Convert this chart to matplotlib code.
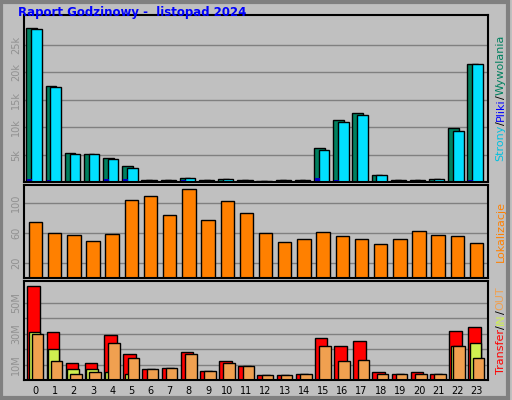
import numpy as np
import matplotlib.pyplot as plt

hours = list(range(24))
hits = [28.1, 17.6, 5.3, 5.2, 4.4, 3.0, 0.3, 0.4, 0.8, 0.3, 0.5, 0.4,
        0.2, 0.3, 0.4, 6.3, 11.3, 12.6, 1.3, 0.3, 0.4, 0.6, 9.9, 21.5]
files = [28.0, 17.4, 5.2, 5.2, 4.2, 2.6, 0.3, 0.4, 0.7, 0.3, 0.5, 0.4,
         0.2, 0.3, 0.4, 5.9, 11.0, 12.3, 1.2, 0.3, 0.4, 0.5, 9.4, 21.5]
pages = [0.6, 0.3, 0.1, 0.1, 0.5, 0.6, 0.1, 0.1, 0.3, 0.1, 0.2, 0.2,
         0.1, 0.1, 0.1, 0.8, 0.3, 0.2, 0.1, 0.1, 0.1, 0.1, 0.2, 0.4]
visits = [75, 60, 57, 49, 59, 104, 109, 84, 119, 77, 103, 87,
          60, 48, 52, 61, 56, 52, 45, 52, 63, 57, 56, 47]
transfer = [60.7, 31, 11, 11, 29, 17, 7, 8, 18, 6, 12, 9,
            3, 3, 4, 27, 22, 25, 5, 4, 5, 4, 32, 34]
tr_in = [31, 20, 7, 7, 5, 4, 0, 0, 0, 0, 0, 0,
         0, 0, 0, 0, 0, 0, 0, 0, 0, 0, 22, 24]
tr_out = [30, 12, 4, 5, 24, 14, 7, 8, 17, 6, 11, 9,
          3, 3, 4, 22, 12, 13, 4, 4, 4, 4, 22, 14]

bg = '#c0c0c0'
fig = plt.figure(figsize=(5.12, 4.0), dpi=100, facecolor=bg)
fig.add_artist(plt.Rectangle((0.002, 0.005), 0.99, 0.99, transform=fig.transFigure,
                             fill=False, ec='#808080', lw=3))
fig.text(0.035, 0.968, 'Raport Godzinowy -  listopad 2024', color='#0000ff',
         fontsize=8.5, fontweight='bold', va='center')

x = np.array(hours)
L, W = 24 / 512, 464 / 512
axes = []
for y0, y1 in [(15, 182), (185, 278), (281, 380)]:
    ax = fig.add_axes([L, 1 - y1 / 400, W, (y1 - y0) / 400], facecolor=bg)
    ax.set_xlim(-0.6, 23.6)
    for s in ax.spines.values():
        s.set_linewidth(1.5)
    ax.tick_params(axis='y', length=0, labelsize=7, labelcolor='#909090', pad=2)
    ax.set_xticks([])
    ax.grid(axis='y', color='#808080', lw=1)
    ax.set_axisbelow(True)
    axes.append(ax)

ax1, ax2, ax3 = axes
ax1.bar(x - 0.2, hits, 0.55, color='#00805f', ec='black', lw=1)
ax1.bar(x + 0.05, files, 0.55, color='#00e0ff', ec='black', lw=1)
ax1.bar(x - 0.3, pages, 0.25, color='#0000c0', lw=0)
ax1.set_ylim(0, 30.5)
ax1.set_yticks([5, 10, 15, 20, 25])
ax1.set_yticklabels(['5k', '10k', '15k', '20k', '25k'], rotation=90, va='center')

ax2.bar(x, visits, 0.7, color='#ff8000', ec='black', lw=1)
ax2.set_ylim(0, 124)
ax2.set_yticks([20, 60, 100])
ax2.set_yticklabels(['20', '60', '100'], rotation=90, va='center')

ax3.bar(x - 0.1, transfer, 0.65, color='#ff0000', ec='black', lw=1)
ax3.bar(x - 0.05, tr_in, 0.6, color='#d0f050', ec='black', lw=1)
ax3.bar(x + 0.1, tr_out, 0.6, color='#f0a050', ec='black', lw=1)
ax3.set_ylim(0, 64)
ax3.set_yticks([10, 20, 30, 40, 50])
ax3.set_yticklabels(['10M', '', '30M', '', '50M'], rotation=90, va='center')
ax3.set_xticks(x)
ax3.set_xticklabels([str(h) for h in hours], fontsize=7)
ax3.tick_params(axis='x', length=0, pad=4)

# right-side labels, pieces stacked bottom-up using measured extents
fig.canvas.draw()
r = fig.canvas.get_renderer()
def vlabel(parts, yc):
    txts = [fig.text(0.978, 0, p, color=c, rotation=90, fontsize=8,
                     ha='center', va='bottom') for p, c in parts]
    hs = [t.get_window_extent(r).height / 400 for t in txts]
    pos = yc - sum(hs) / 2
    for t, h in zip(txts, hs):
        t.set_y(pos)
        pos += h

vlabel([('Strony', '#00c0e0'), ('/', '#000000'), ('Pliki', '#0000ff'), ('/', '#000000'), ('Wywolania', '#00805f')], 1 - 98 / 400)
vlabel([('Lokalizacje', '#ff8000')], 1 - 231 / 400)
vlabel([('Transfer', '#ff0000'), ('/', '#000000'), ('IN', '#d0f050'), ('/', '#000000'), ('OUT', '#f0a050')], 1 - 330 / 400)

fig.savefig('out.png', dpi=100, facecolor=bg)
